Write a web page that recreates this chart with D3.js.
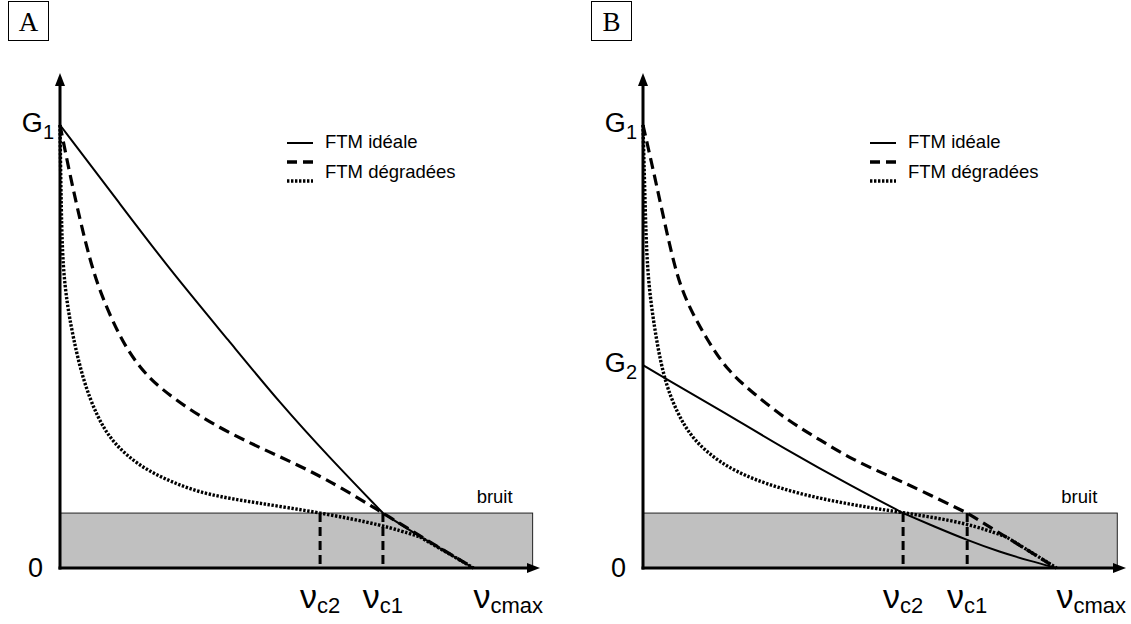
<!DOCTYPE html>
<html><head><meta charset="utf-8">
<script src="https://cdn.jsdelivr.net/npm/d3@7"></script>
<style>
html,body{margin:0;padding:0;background:#fff;}
svg{display:block;}
</style></head>
<body>
<svg id="chart" width="1131" height="624"></svg>
<script>
// ---------- data (x: 0..100 = ν_cmax, y: 0..100 = G1) ----------
const panelNames = ["A", "B"];
const noiseLevel = 12.4;
const noiseExtent = [114.3, 114.7];
const gainNames = [["1"], ["1", "2"]];
const gainValues = [[100], [100, 45.8]];
const freqNames = ["c2", "c1", "cmax"];
const freqValuesA = [62.9, 78.1, 100];
const freqValuesB = [62.9, 78.4, 100];
const legendLabels = ["FTM idéale", "FTM dégradées"];
const noiseLabel = "bruit";

const idealA_x = [0, 14.5, 26.6, 41.1, 53.2, 65.3, 78.1, 87.1, 100];
const idealA_y = [100, 82.2, 67.3, 51.0, 37.2, 24.8, 12.4, 7.0, 0];
const dashedA_x = [0, 2.42, 4.84, 7.26, 9.67, 14.5, 19.3, 24.2, 31.4, 38.7, 46.0, 53.2, 60.5, 67.7, 78.1, 87.1, 100];
const dashedA_y = [100, 88.7, 78.6, 69.5, 62.3, 51.9, 45.1, 40.6, 35.7, 31.6, 28.2, 25.1, 21.9, 18.3, 12.4, 7.2, 0];
const dottedA_x = [0, 0.3, 0.7, 1.69, 3.15, 5.57, 8.96, 12.8, 19.4, 27.4, 35.6, 47.7, 62.9, 78.1, 87.1, 100];
const dottedA_y = [100, 80, 68, 59.8, 52.1, 42.4, 34.1, 28.2, 22.8, 19.2, 16.5, 14.7, 12.5, 9.7, 7.0, 0];

const idealB_x = [0, 4.84, 18.6, 34.8, 50.8, 62.9, 70.6, 78.4, 86.3, 93.6, 100];
const idealB_y = [45.8, 43.1, 35.7, 26.6, 18.3, 12.4, 9.3, 6.3, 3.6, 1.6, 0];
const dashedB_x = [0, 1.93, 4.59, 7.74, 10.6, 15.5, 20.3, 26.6, 34.8, 42.8, 50.8, 59.0, 67.0, 78.4, 100];
const dashedB_y = [100, 92.1, 80.8, 67.3, 59.8, 51.5, 44.7, 39.5, 33.4, 28.9, 24.4, 21.0, 17.6, 12.4, 0];
const dottedB_x = [0, 0.48, 0.97, 2.42, 4.84, 8.21, 12.1, 18.6, 26.6, 38.6, 50.8, 62.9, 78.4, 87.9, 100];
const dottedB_y = [100, 83.1, 67.3, 56.0, 43.1, 35.0, 28.9, 23.7, 19.9, 16.5, 14.2, 12.5, 10.2, 7.0, 0];

// x positions where a curve has a corner (where it meets the noise floor / another curve)
const cornersA = {ideal: [78.1], dashed: [78.1], dotted: [87.1]};
const cornersB = {ideal: [62.9], dashed: [78.4], dotted: [87.9]};

// ---------- layout ----------
const svg = d3.select("#chart");
const origins = [[60, 125], [643, 125]];
const x = d3.scaleLinear().domain([0, 100]).range([0, 413.5]);
const y = d3.scaleLinear().domain([0, 100]).range([443, 0]);
const sans = "'Liberation Sans', Arial, sans-serif";
const serif = "'Liberation Serif', 'Times New Roman', serif";

const zip = (xs, ys) => xs.map((v, i) => [v, ys[i]]);
const line = d3.line().x(d => x(d[0])).y(d => y(d[1])).curve(d3.curveBasis);
// triplicate corner points so the B-spline passes through them with a sharp corner
const withCorners = (pts, corners) => pts.flatMap(p => corners.includes(p[0]) ? [p, p, p] : [p]);

const panels = [
  {ideal: zip(idealA_x, idealA_y), dashed: zip(dashedA_x, dashedA_y), dotted: zip(dottedA_x, dottedA_y), freqs: freqValuesA, corners: cornersA},
  {ideal: zip(idealB_x, idealB_y), dashed: zip(dashedB_x, dashedB_y), dotted: zip(dottedB_x, dottedB_y), freqs: freqValuesB, corners: cornersB}
];

const dotDash = "2.4,1.6";

panels.forEach((p, pi) => {
  const [ox, oy] = origins[pi];
  // box label
  const bx = ox - 52, by = 1;
  svg.append("rect").attr("x", bx + 0.5).attr("y", by + 0.5).attr("width", 40).attr("height", 39)
    .attr("fill", "none").attr("stroke", "#000").attr("stroke-width", 1);
  svg.append("text").attr("x", bx + 20.5).attr("y", by + 30).attr("text-anchor", "middle")
    .attr("font-family", serif).attr("font-size", 27).text(panelNames[pi]);

  const g = svg.append("g").attr("transform", `translate(${ox},${oy})`);

  // noise rect
  g.append("rect").attr("x", x(0)).attr("y", y(noiseLevel))
    .attr("width", x(noiseExtent[pi]) - x(0)).attr("height", y(0) - y(noiseLevel))
    .attr("fill", "#c0c0c0").attr("stroke", "#222").attr("stroke-width", 1);
  g.append("text").attr("x", x(noiseExtent[pi]) - 20).attr("y", y(noiseLevel) - 10)
    .attr("text-anchor", "end").attr("font-family", sans).attr("font-size", 18.5).text(noiseLabel);

  // vertical dashed cut-off markers
  p.freqs.slice(0, 2).forEach(f => {
    g.append("line").attr("x1", x(f)).attr("x2", x(f)).attr("y1", y(noiseLevel)).attr("y2", y(0))
      .attr("stroke", "#000").attr("stroke-width", 3).attr("stroke-dasharray", "9,5");
  });

  // curves
  g.append("path").attr("d", line(withCorners(p.ideal, p.corners.ideal))).attr("fill", "none")
    .attr("stroke", "#000").attr("stroke-width", 2);
  g.append("path").attr("d", line(withCorners(p.dashed, p.corners.dashed))).attr("fill", "none").attr("stroke", "#000")
    .attr("stroke-width", 3.2).attr("stroke-dasharray", "11,6");
  g.append("path").attr("d", line(withCorners(p.dotted, p.corners.dotted))).attr("fill", "none").attr("stroke", "#000")
    .attr("stroke-width", 3.4).attr("stroke-dasharray", dotDash);

  // axes
  const yTop = -52, xEnd = 480 + (pi === 1 ? 3 : 0);
  g.append("line").attr("x1", 0).attr("x2", 0).attr("y1", y(0) + 1.5).attr("y2", yTop + 10)
    .attr("stroke", "#000").attr("stroke-width", 3);
  g.append("path").attr("d", `M0,${yTop} L-5,${yTop + 13} L5,${yTop + 13} Z`).attr("fill", "#000");
  g.append("line").attr("x1", -1.5).attr("x2", xEnd - 10).attr("y1", y(0)).attr("y2", y(0))
    .attr("stroke", "#000").attr("stroke-width", 3);
  g.append("path").attr("d", `M${xEnd},${y(0)} L${xEnd - 13},${y(0) - 5} L${xEnd - 13},${y(0) + 5} Z`).attr("fill", "#000");

  // y labels
  gainValues[pi].forEach((v, i) => {
    const t = g.append("text").attr("x", -6).attr("y", y(v) + 7).attr("text-anchor", "end")
      .attr("font-family", sans).attr("font-size", 27);
    t.append("tspan").text("G");
    t.append("tspan").attr("dy", 7).attr("font-size", 20).text(gainNames[pi][i]);
  });
  g.append("text").attr("x", -17).attr("y", y(0) + 9).attr("text-anchor", "end")
    .attr("font-family", sans).attr("font-size", 27).text("0");

  // x labels
  p.freqs.forEach((f, i) => {
    const t = g.append("text").attr("x", x(f)).attr("y", y(0) + 40)
      .attr("text-anchor", i === 2 ? "start" : "middle").attr("font-family", sans).attr("font-size", 34);
    t.append("tspan").text("ν");
    t.append("tspan").attr("dy", 5).attr("font-size", 22).text(freqNames[i]);
  });

  // legend
  const lg = g.append("g").attr("transform", "translate(227,18)");
  lg.append("line").attr("x1", 0).attr("x2", 26).attr("y1", 0).attr("y2", 0).attr("stroke", "#000").attr("stroke-width", 2);
  lg.append("line").attr("x1", 0).attr("x2", 26).attr("y1", 19).attr("y2", 19).attr("stroke", "#000")
    .attr("stroke-width", 3.4).attr("stroke-dasharray", "10,6");
  lg.append("line").attr("x1", 0).attr("x2", 26).attr("y1", 38).attr("y2", 38).attr("stroke", "#000")
    .attr("stroke-width", 3.4).attr("stroke-dasharray", dotDash);
  lg.append("text").attr("x", 38).attr("y", 5).attr("font-family", sans).attr("font-size", 18.5).text(legendLabels[0]);
  lg.append("text").attr("x", 38).attr("y", 35).attr("font-family", sans).attr("font-size", 18.5).text(legendLabels[1]);
});
</script>
</body></html>
